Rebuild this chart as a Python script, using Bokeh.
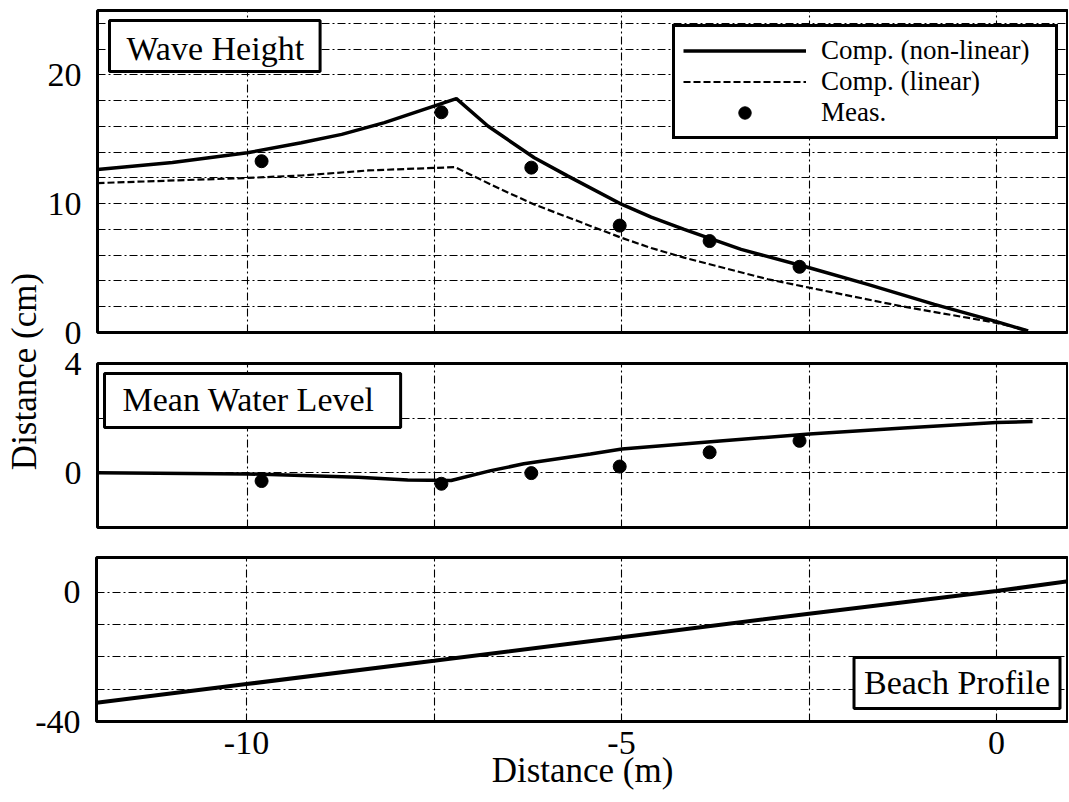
import math
from bokeh.plotting import figure
from bokeh.models import (Range1d, FixedTicker, Label, Legend, LegendItem,
                          CustomJSTickFormatter)
from bokeh.layouts import row, column
from bokeh.embed import file_html
from bokeh.resources import INLINE

# ---------------- data ----------------
# Wave height, computed non-linear model
x_nonlinear = [-12, -11, -10, -9.28, -8.74, -8.17, -7.5, -7.21, -6.79, -6.17,
               -5.72, -5.0, -4.61, -4.17, -3.41, -2.5, -1.72, -0.83, 0.0, 0.42]
h_nonlinear = [12.65, 13.2, 13.95, 14.73, 15.38, 16.29, 17.59, 18.16, 16.03, 13.57,
               12.14, 9.94, 8.95, 8.0, 6.45, 5.03, 3.74, 2.18, 0.84, 0.12]
# Wave height, computed linear model
x_linear = [-12, -10, -9.28, -8.39, -7.23, -6.61, -6.17, -5.0, -4.61, -4.17,
            -3.05, -2.5, -1.28, 0.0, 0.42]
h_linear = [11.6, 12.0, 12.19, 12.58, 12.84, 11.1, 9.94, 7.34, 6.56, 5.81,
            4.13, 3.48, 2.05, 0.75, 0.15]
# Measurement stations
x_meas = [-9.81, -7.41, -6.21, -5.03, -3.83, -2.63]
h_meas = [13.3, 17.1, 12.8, 8.3, 7.1, 5.1]
# Mean water level
x_mwl = [-12, -10, -8.52, -7.86, -7.28, -6.75, -6.31, -5.42, -5.0, -3.65,
         -2.5, -1.24, 0.0, 0.48]
mwl_comp = [0.0, -0.04, -0.16, -0.26, -0.28, 0.08, 0.33, 0.69, 0.87, 1.17,
            1.42, 1.64, 1.84, 1.88]
mwl_meas = [-0.30, -0.40, -0.01, 0.23, 0.75, 1.17]
# Beach profile
x_bed = [-12, -10, -7.5, -5, -2.5, 0, 1]
z_bed = [-34.2, -28.4, -21.2, -13.9, -6.6, 0.4, 3.6]

x_tick_values = [-10, -5, 0]
x_grid_values = [-10, -7.5, -5, -2.5, 0]
wh_ticks = [0, 10, 20]
wh_grid = [2, 4, 6, 8, 10, 12, 14, 16, 18, 20, 22, 24]
mwl_ticks = [0, 4]
mwl_grid = [0, 2]
bed_ticks = [-40, 0]
bed_grid = [-30, -20, -10, 0]

FONT = "Liberation Serif"
X_RANGE = (-12, 0.96)
PLAIN = CustomJSTickFormatter(code="return String(tick);")


def base_fig(width, height, yr, left, top, bottom):
    p = figure(width=width, height=height, output_backend="svg", toolbar_location=None,
               x_range=Range1d(*X_RANGE), y_range=Range1d(*yr),
               min_border_left=left, min_border_right=0,
               min_border_top=top, min_border_bottom=bottom)
    p.outline_line_color = "black"
    p.outline_line_width = 3
    p.background_fill_color = "white"
    p.border_fill_color = "white"
    return p


def style(p, yticks, ygrid):
    ya = p.yaxis[0]
    ya.ticker = FixedTicker(ticks=yticks)
    ya.formatter = PLAIN
    ya.major_label_text_font = FONT
    ya.major_label_text_font_size = "34px"
    ya.major_label_text_color = "black"
    ya.axis_line_color = None
    ya.major_tick_line_color = None
    ya.minor_tick_line_color = None
    ya.major_tick_out = 0
    ya.major_label_standoff = 16
    p.xgrid.ticker = FixedTicker(ticks=x_grid_values)
    p.ygrid.ticker = FixedTicker(ticks=ygrid)
    for g in (p.xgrid[0], p.ygrid[0]):
        g.grid_line_color = "black"
        g.grid_line_width = 1.1
        g.grid_line_alpha = 1.0
        g.grid_line_dash = "8 3 2 3"


def box_label(text, x, y, align, baseline, pad):
    return Label(x=x, y=y, x_units="screen", y_units="screen", text=text,
                 text_font=FONT, text_font_size="34px", text_color="black",
                 text_align=align, text_baseline=baseline,
                 background_fill_color="white", background_fill_alpha=1.0,
                 border_line_color="black", border_line_width=3,
                 padding=pad)


# ---------------- top: wave height ----------------
p1 = base_fig(1024, 352, (0, 25), 52, 10, 20)
style(p1, wh_ticks, wh_grid)
p1.xaxis.visible = False
r_nl = p1.line(x_nonlinear, h_nonlinear, line_color="black", line_width=3.5)
r_lin = p1.line(x_linear, h_linear, line_color="black", line_width=2.2, line_dash="7 3")
r_me = p1.scatter(x_meas, h_meas, size=13, color="black")
legend = Legend(items=[LegendItem(label="Comp. (non-linear)", renderers=[r_nl]),
                       LegendItem(label="Comp. (linear)", renderers=[r_lin]),
                       LegendItem(label="Meas.", renderers=[r_me])],
                location=(575, 193), orientation="vertical",
                border_line_color="black", border_line_width=3, border_line_alpha=1.0,
                background_fill_color="white", background_fill_alpha=1.0,
                padding=8, spacing=0, margin=0,
                glyph_width=123, glyph_height=31, label_height=31,
                label_standoff=15, label_width=226,
                label_text_font=FONT, label_text_font_size="27px",
                label_text_color="black")
p1.add_layout(legend)
p1.add_layout(box_label("Wave Height", 12, 312, "left", "top",
                        dict(left=17, right=16, top=9, bottom=5)))

# ---------------- middle: mean water level ----------------
p2 = base_fig(1024, 190, (-2, 4), 52, 11, 15)
style(p2, mwl_ticks, mwl_grid)
p2.xaxis.visible = False
p2.line(x_mwl, mwl_comp, line_color="black", line_width=3.5)
p2.scatter(x_meas, mwl_meas, size=13, color="black")
p2.add_layout(box_label("Mean Water Level", 7, 154, "left", "top",
                        dict(left=18, right=26, top=7, bottom=10)))

# ---------------- bottom: beach profile ----------------
p3 = base_fig(1068, 259, (-40, 10.8), 96, 15, 80)
style(p3, bed_ticks, bed_grid)
xa = p3.xaxis[0]
xa.ticker = FixedTicker(ticks=x_tick_values)
xa.formatter = PLAIN
xa.major_label_text_font = FONT
xa.major_label_text_font_size = "34px"
xa.major_label_text_color = "black"
xa.axis_line_color = None
xa.major_tick_line_color = None
xa.minor_tick_line_color = None
xa.major_tick_out = 0
xa.major_label_standoff = 10
xa.axis_label = "Distance (m)"
xa.axis_label_text_font = FONT
xa.axis_label_text_font_size = "35px"
xa.axis_label_text_font_style = "normal"
xa.axis_label_text_color = "black"
xa.axis_label_standoff = -6
p3.line(x_bed, z_bed, line_color="black", line_width=4)
p3.add_layout(box_label("Beach Profile", 963.5, 13, "right", "bottom",
                        dict(left=10, right=10, top=6, bottom=8)))

# ---------------- y axis title column ----------------
pl = figure(width=44, height=542, output_backend="svg", toolbar_location=None,
            x_range=Range1d(0, 1), y_range=Range1d(0, 1), min_border=0)
pl.axis.visible = False
pl.grid.visible = False
pl.outline_line_color = None
pl.border_fill_color = "white"
pl.background_fill_color = "white"
pl.add_layout(Label(x=24, y=171, x_units="screen", y_units="screen",
                    text="Distance (cm)", text_font=FONT, text_font_size="35px",
                    text_color="black", text_align="center", text_baseline="middle",
                    angle=math.pi / 2))

layout = column(row(pl, column(p1, p2)), p3)
open("out.html", "w").write(file_html(layout, INLINE))
